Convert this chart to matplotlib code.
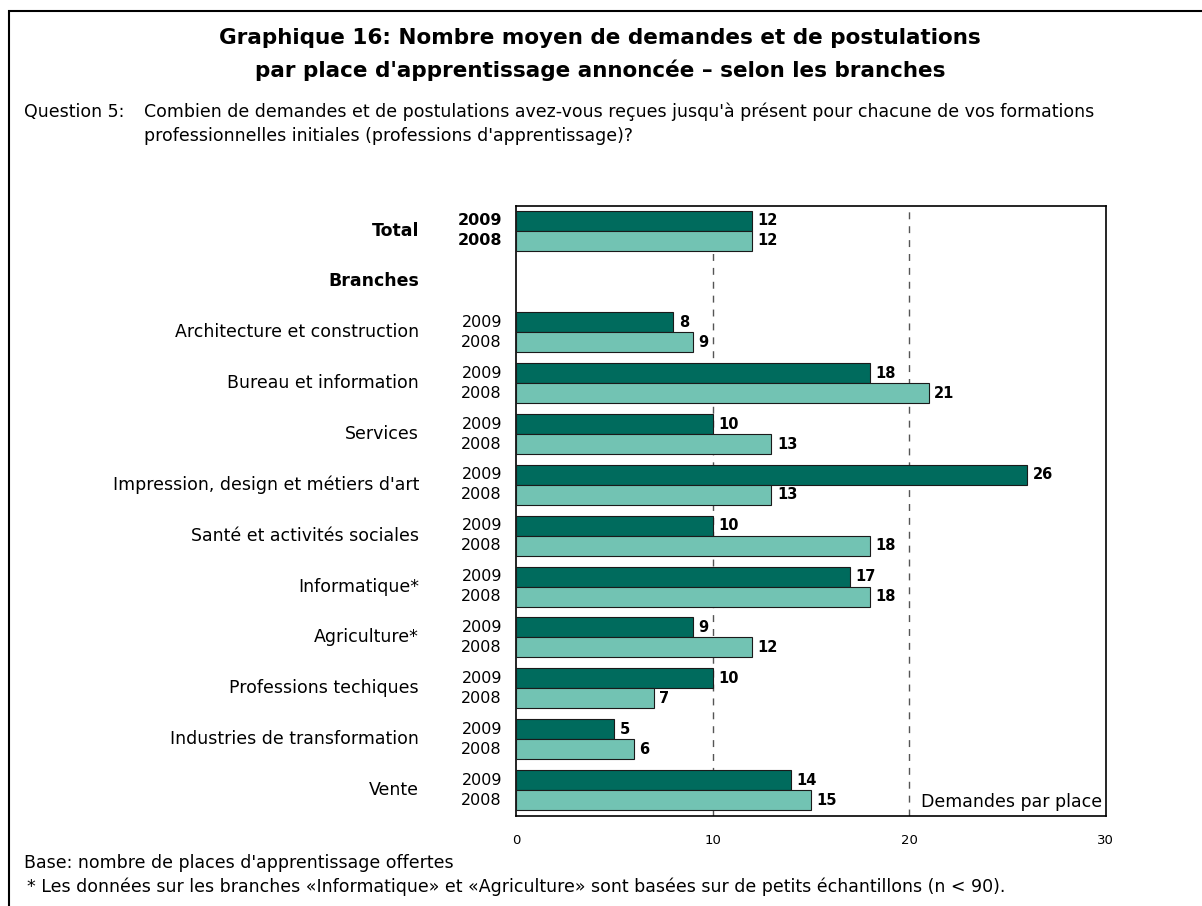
import matplotlib
matplotlib.use("Agg")
import matplotlib.pyplot as plt
from matplotlib.patches import Rectangle
from matplotlib.transforms import blended_transform_factory

plt.rcParams['font.family'] = ['DejaVu Sans']

# data
categories = ["Architecture et construction", "Bureau et information", "Services",
              "Impression, design et métiers d'art", "Santé et activités sociales",
              "Informatique*", "Agriculture*", "Professions techiques",
              "Industries de transformation", "Vente"]
v2009 = [8, 18, 10, 26, 10, 17, 9, 10, 5, 14]
v2008 = [9, 21, 13, 13, 18, 18, 12, 7, 6, 15]
total_2009 = 12
total_2008 = 12
years = ["2009", "2008"]
xticks = [0, 10, 20, 30]

c_dark = "#006B5D"
c_light = "#72C3B3"

W, H = 1202, 906
fig = plt.figure(figsize=(W / 100, H / 100), dpi=100)
ax = fig.add_axes([516 / W, 1 - 816 / H, (1105.5 - 516) / W, (816 - 205.7) / H])

rows = [0] + list(range(2, 12))
vals09 = [total_2009] + v2009
vals08 = [total_2008] + v2008
h = 0.393

ax.barh([r - h / 2 for r in rows], vals09, height=h, color=c_dark,
        edgecolor="#1a1a1a", linewidth=0.8, zorder=3)
ax.barh([r + h / 2 for r in rows], vals08, height=h, color=c_light,
        edgecolor="#1a1a1a", linewidth=0.8, zorder=3)

for r, a, b in zip(rows, vals09, vals08):
    ax.annotate(str(a), (a, r - h / 2), xytext=(4, 0), textcoords="offset points",
                va="center", ha="left", fontsize=10.5, fontweight="bold")
    ax.annotate(str(b), (b, r + h / 2), xytext=(4, 0), textcoords="offset points",
                va="center", ha="left", fontsize=10.5, fontweight="bold")

# labels on the left
tr = blended_transform_factory(fig.transFigure, ax.transData)
for i, r in enumerate(rows):
    bold = "bold" if r == 0 else "normal"
    ax.text(502 / W, r - h / 2, years[0], transform=tr, ha="right", va="center",
            fontsize=11.5, fontweight=bold)
    ax.text(502 / W, r + h / 2, years[1], transform=tr, ha="right", va="center",
            fontsize=11.5, fontweight=bold)
    label = "Total" if r == 0 else categories[i - 1]
    ax.text(419 / W, r, label, transform=tr, ha="right", va="center",
            fontsize=12.5, fontweight=bold)
ax.text(419 / W, 1, "Branches", transform=tr, ha="right", va="center",
        fontsize=12.5, fontweight="bold")

ax.set_xlim(0, 30)
ax.set_ylim(11.51, -0.49)
ax.set_yticks([])
ax.set_xticks(xticks)
ax.tick_params(axis="x", length=0, pad=13, labelsize=9.5)
for x in [10, 20]:
    ax.axvline(x, color="#555555", linestyle=(0, (5, 5)), linewidth=1, zorder=1)
for s in ax.spines.values():
    s.set_linewidth(1.2)
ax.text(0.995, 0.008, "Demandes par place", transform=ax.transAxes,
        ha="right", va="bottom", fontsize=12.5)

# titles and notes
fig.text(600 / W, 1 - 44 / H, "Graphique 16: Nombre moyen de demandes et de postulations",
         ha="center", va="baseline", fontsize=15.5, fontweight="bold")
fig.text(600 / W, 1 - 77 / H, "par place d'apprentissage annoncée – selon les branches",
         ha="center", va="baseline", fontsize=15.5, fontweight="bold")
fig.text(24 / W, 1 - 117 / H, "Question 5:", ha="left", va="baseline", fontsize=12.5)
fig.text(144 / W, 1 - 117 / H,
         "Combien de demandes et de postulations avez-vous reçues jusqu'à présent pour chacune de vos formations",
         ha="left", va="baseline", fontsize=12.5)
fig.text(144 / W, 1 - 141 / H, "professionnelles initiales (professions d'apprentissage)?",
         ha="left", va="baseline", fontsize=12.5)
fig.text(24 / W, 1 - 868 / H, "Base: nombre de places d'apprentissage offertes",
         ha="left", va="baseline", fontsize=12.5)
fig.text(27 / W, 1 - 892 / H,
         "* Les données sur les branches «Informatique» et «Agriculture» sont basées sur de petits échantillons (n < 90).",
         ha="left", va="baseline", fontsize=12.5)

# outer frame
fig.patches.append(Rectangle((9 / W, -0.05), 1.2, 1 - 11 / H + 0.05, transform=fig.transFigure,
                             fill=False, edgecolor="black", linewidth=1.5))

fig.savefig("out.png", dpi=100)
